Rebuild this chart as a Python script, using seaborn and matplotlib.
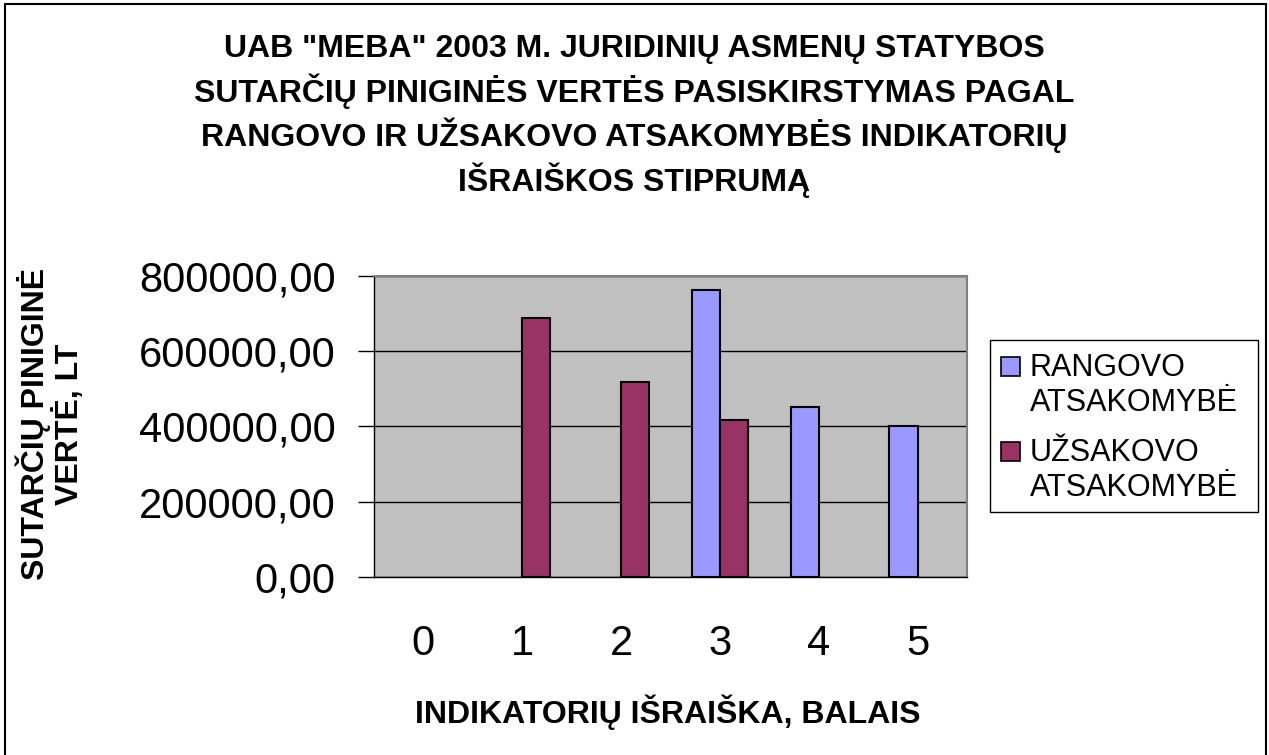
import numpy as np
import pandas as pd
import matplotlib
matplotlib.use('Agg')
import matplotlib.pyplot as plt
from matplotlib.patches import Rectangle
from matplotlib.ticker import FuncFormatter, FixedLocator
import seaborn as sns

# Duomenys
balai = ['0', '1', '2', '3', '4', '5']
rangovo = [0, 0, 0, 762000, 453000, 400000]
uzsakovo = [0, 688000, 517000, 416000, 0, 0]
serijos = ['RANGOVO\nATSAKOMYBĖ', 'UŽSAKOVO\nATSAKOMYBĖ']
spalvos = ['#9999FF', '#993366']
y_ticks = [0, 200000, 400000, 600000, 800000]

pavadinimas = ('UAB "MEBA" 2003 M. JURIDINIŲ ASMENŲ STATYBOS\n'
               'SUTARČIŲ PINIGINĖS VERTĖS PASISKIRSTYMAS PAGAL\n'
               'RANGOVO IR UŽSAKOVO ATSAKOMYBĖS INDIKATORIŲ\n'
               'IŠRAIŠKOS STIPRUMĄ')

df = pd.DataFrame({
    'balas': balai * 2,
    'verte': rangovo + uzsakovo,
    'serija': [serijos[0]] * len(balai) + [serijos[1]] * len(balai),
})
# nulinių stulpelių nepiešiam (Excel jų nerodo)
df['verte'] = df['verte'].replace(0, np.nan)

sns.set_style('white')
plt.rcParams['font.family'] = ['Liberation Sans', 'DejaVu Sans']
plt.rcParams['text.color'] = 'black'
plt.rcParams['xtick.color'] = 'black'
plt.rcParams['ytick.color'] = 'black'

W, H = 1269, 755
fig = plt.figure(figsize=(W / 100, H / 100), dpi=100)
ax = fig.add_axes([374 / W, 1 - 577 / H, (967 - 374) / W, (577 - 276) / H])

sns.barplot(data=df, x='balas', y='verte', hue='serija', order=balai,
            hue_order=serijos, palette=spalvos, saturation=1, width=0.57,
            edgecolor='black', linewidth=1.5, errorbar=None,
            legend=False, ax=ax, zorder=3)

ax.set_facecolor('#C0C0C0')
ax.set_xlim(-0.5, 5.5)
ax.set_ylim(0, 800000)
ax.set_yticks(y_ticks)
ax.yaxis.set_major_formatter(FuncFormatter(lambda v, p: f'{v:.2f}'.replace('.', ',')))
ax.grid(axis='y', color='black', linewidth=1, zorder=1)
ax.set_axisbelow(True)

ax.xaxis.set_minor_locator(FixedLocator(np.arange(-0.5, 6, 1)))
ax.tick_params(axis='x', which='major', length=0, pad=34, labelsize=30)
ax.tick_params(axis='x', which='minor', length=10, width=1, color='black')
ax.tick_params(axis='y', length=11.5, width=1, color='black', pad=16, labelsize=30, left=True)

for side in ['top', 'right']:
    ax.spines[side].set_color('#808080')
    ax.spines[side].set_linewidth(1.5)
for side in ['left', 'bottom']:
    ax.spines[side].set_color('black')
    ax.spines[side].set_linewidth(1)

ax.set_xlabel('')
ax.set_ylabel('')

fig.text(0.5, 1 - 116 / H, pavadinimas, ha='center', va='center',
         fontsize=23, fontweight='bold', linespacing=1.31)
fig.text(668 / W, 1 - 712 / H, 'INDIKATORIŲ IŠRAIŠKA, BALAIS',
         ha='center', va='center', fontsize=23, fontweight='bold')
fig.text(50 / W, 1 - 424 / H, 'SUTARČIŲ PINIGINĖ\nVERTĖ, LT', rotation=90,
         ha='center', va='center', fontsize=23, fontweight='bold',
         multialignment='center', linespacing=1.08)

# Legenda
fig.add_artist(Rectangle((990 / W, 1 - 512 / H), (1258 - 990) / W, (512 - 340) / H,
                         transform=fig.transFigure, facecolor='white',
                         edgecolor='black', linewidth=1))
for i, (lab, c) in enumerate(zip(serijos, spalvos)):
    y1 = 366.7 + i * 85
    fig.add_artist(Rectangle((1001 / W, 1 - (y1 + 9.5) / H), 19 / W, 19 / H,
                             transform=fig.transFigure, facecolor=c,
                             edgecolor='black', linewidth=1.2))
    fig.text(1030 / W, 1 - (y1 + 19) / H, lab, ha='left', va='center',
             fontsize=22, linespacing=1.24)

# Rėmelis
fig.add_artist(Rectangle((5 / W, -0.01), 1261 / W, 1.01 - 4 / H,
                         transform=fig.transFigure, fill=False,
                         edgecolor='black', linewidth=1.5))

fig.savefig('out.png', dpi=100)
